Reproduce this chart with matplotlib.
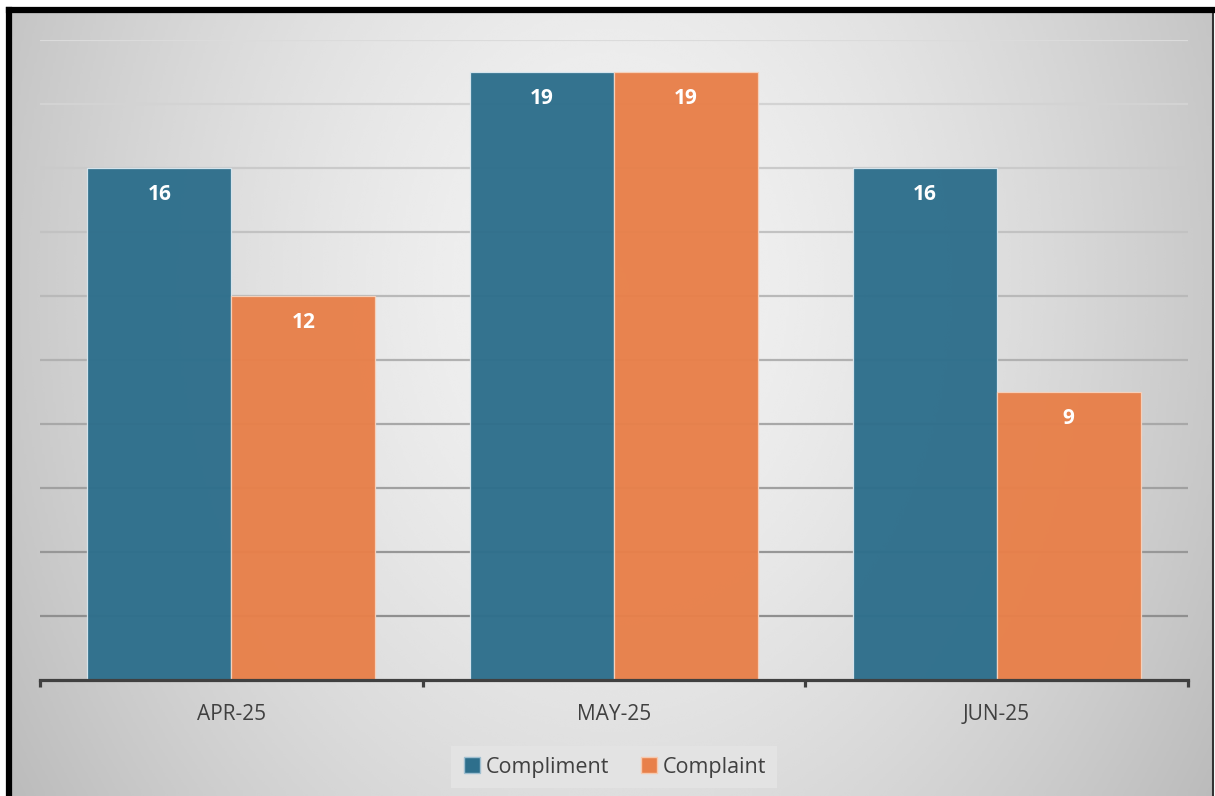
import numpy as np
import matplotlib.pyplot as plt
from matplotlib.lines import Line2D

months = ['APR-25', 'MAY-25', 'JUN-25']
compliment = [16, 19, 16]
complaint = [12, 19, 9]

BLUE = '#2e6f8c'
ORANGE = '#e8804a'
TXT = '#404040'

plt.rcParams['font.family'] = ['Open Sans', 'DejaVu Sans']


def main():
    fig = plt.figure(figsize=(12.15, 7.96), dpi=100)

    # frame with radial grey gradient
    bg = fig.add_axes([9 / 1215, 0, 1204 / 1215, 786 / 796])
    yy, xx = np.mgrid[0:1:300j, 0:1:450j]
    r = np.sqrt(((xx - 0.5) / 0.55) ** 2 + ((yy - 0.35) / 1.1) ** 2)
    bg.imshow(0.95 - 0.19 * np.clip(r, 0, 1.1) ** 1.6, cmap='gray', vmin=0, vmax=1,
              aspect='auto', extent=(0, 1, 0, 1), origin='upper', interpolation='bicubic')
    bg.set_xticks([])
    bg.set_yticks([])
    bg.spines['bottom'].set_visible(False)
    bg.spines['top'].set_linewidth(4.5)
    bg.spines['left'].set_linewidth(4.5)
    bg.spines['right'].set_linewidth(1.5)
    bg.spines['right'].set_color('#333333')

    ax = fig.add_axes([40 / 1215, 116 / 796, 1148 / 1215, 640 / 796])
    ax.set_facecolor('none')
    x = np.arange(len(months))
    w = 0.376

    # gridlines, lighter towards the top
    levels = np.arange(2, 21, 2)
    shades = np.linspace(0.56, 0.86, len(levels))
    for lv, s in zip(levels, shades):
        ax.axhline(lv, color=str(s), lw=1.6, zorder=1)

    b1 = ax.bar(x - w / 2, compliment, w, color=BLUE, alpha=0.97,
                edgecolor='#d8e6ee', linewidth=0.9, zorder=2)
    b2 = ax.bar(x + w / 2, complaint, w, color=ORANGE, alpha=0.97,
                edgecolor='#f6d2bd', linewidth=0.9, zorder=2)
    for bars in (b1, b2):
        for rect in bars:
            h = rect.get_height()
            ax.annotate(f'{h:g}', (rect.get_x() + rect.get_width() / 2, h),
                        xytext=(0, -27), textcoords='offset pixels',
                        ha='center', va='center', color='white',
                        fontsize=15, fontweight='bold', zorder=3)

    ax.set_xlim(-0.5, 2.5)
    ax.set_ylim(0, 20)
    ax.set_yticks([])
    for s in ('top', 'left', 'right'):
        ax.spines[s].set_visible(False)
    ax.spines['bottom'].set_color(TXT)
    ax.spines['bottom'].set_linewidth(2.3)
    ax.set_xticks(x, months)
    ax.tick_params(axis='x', which='major', length=0, pad=17, labelsize=15, labelcolor=TXT)
    ax.set_xticks([-0.5, 0.5, 1.5, 2.5], minor=True)
    ax.tick_params(axis='x', which='minor', length=5, width=2.3, color=TXT)

    handles = [Line2D([], [], marker='s', ls='none', markersize=11, markerfacecolor=BLUE,
                      markeredgecolor='#9fbfd0', markeredgewidth=1),
               Line2D([], [], marker='s', ls='none', markersize=11, markerfacecolor=ORANGE,
                      markeredgecolor='#f6c9ae', markeredgewidth=1)]
    leg = fig.legend(handles, ['Compliment', 'Complaint'], ncol=2,
                     loc='center', bbox_to_anchor=(614 / 1215, 1 - 767 / 796),
                     fontsize=15.5, frameon=True, fancybox=False,
                     handletextpad=0.2, columnspacing=1.4, borderpad=0.5,
                     borderaxespad=0, handlelength=0.9)
    leg.get_frame().set_facecolor('#e3e3e3')
    leg.get_frame().set_edgecolor('none')
    leg.get_frame().set_alpha(1)
    for t in leg.get_texts():
        t.set_color(TXT)

    fig.savefig('out.png', dpi=100)


if __name__ == '__main__':
    main()
